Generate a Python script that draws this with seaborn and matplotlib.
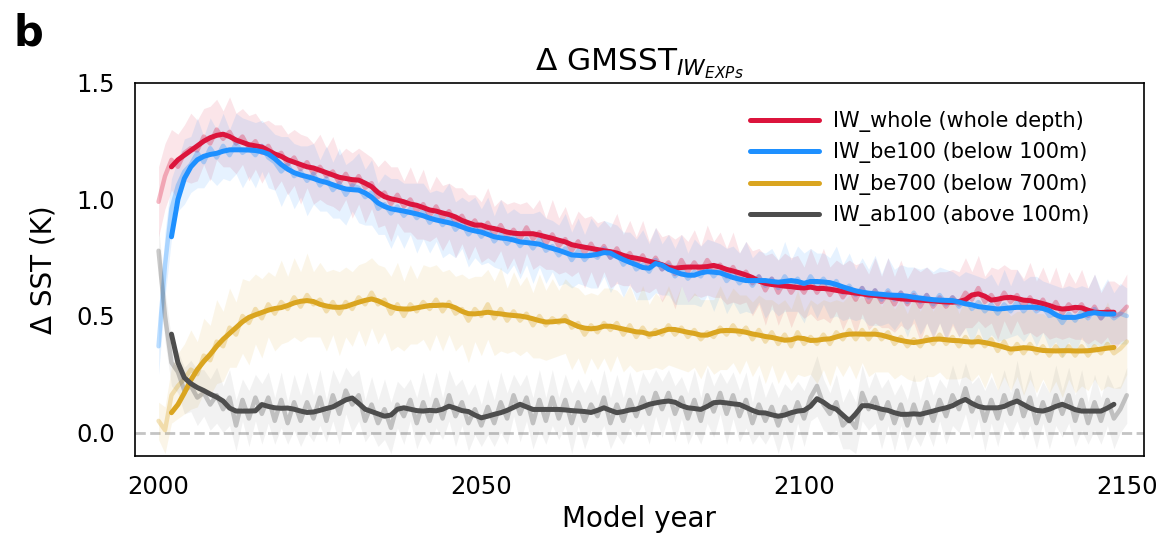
import numpy as np
import pandas as pd
import matplotlib
matplotlib.use("Agg")
import matplotlib.pyplot as plt
import seaborn as sns

# ---------------- data ----------------
years_raw = list(range(2000, 2151))
years_smooth = list(range(2002, 2149))

series_names = ["IW_whole (whole depth)", "IW_be100 (below 100m)",
                "IW_be700 (below 700m)", "IW_ab100 (above 100m)"]
series_colors = ["#DC143C", "#1E90FF", "#DAA520", "#4D4D4D"]

whole_raw = [
    0.99, 1.10, 1.17, 1.14, 1.20, 1.22, 1.21, 1.27, 1.24, 1.30,
    1.26, 1.29, 1.24, 1.27, 1.22, 1.25, 1.20, 1.23, 1.18, 1.20,
    1.15, 1.18, 1.13, 1.16, 1.11, 1.14, 1.10, 1.12, 1.07, 1.11,
    1.06, 1.10, 1.05, 1.07, 1.01, 1.03, 0.98, 1.02, 0.97, 1.00,
    0.95, 0.98, 0.93, 0.97, 0.92, 0.95, 0.90, 0.93, 0.88, 0.91,
    0.86, 0.90, 0.85, 0.89, 0.84, 0.87, 0.83, 0.88, 0.83, 0.86,
    0.81, 0.85, 0.80, 0.83, 0.78, 0.82, 0.77, 0.81, 0.76, 0.80,
    0.75, 0.79, 0.74, 0.77, 0.72, 0.76, 0.71, 0.75, 0.70, 0.73,
    0.68, 0.74, 0.69, 0.73, 0.69, 0.74, 0.70, 0.72, 0.67, 0.71,
    0.66, 0.69, 0.64, 0.67, 0.61, 0.66, 0.60, 0.65, 0.60, 0.64,
    0.60, 0.65, 0.60, 0.64, 0.59, 0.63, 0.58, 0.62, 0.57, 0.62,
    0.56, 0.61, 0.56, 0.60, 0.55, 0.60, 0.55, 0.59, 0.54, 0.59,
    0.54, 0.58, 0.54, 0.58, 0.55, 0.60, 0.57, 0.62, 0.56, 0.59,
    0.55, 0.60, 0.56, 0.59, 0.54, 0.58, 0.53, 0.57, 0.52, 0.56,
    0.51, 0.55, 0.52, 0.55, 0.50, 0.54, 0.49, 0.53, 0.50, 0.51,
    0.54]
be100_raw = [
    0.37, 0.72, 0.96, 1.06, 1.12, 1.15, 1.20, 1.16, 1.22, 1.18,
    1.23, 1.19, 1.24, 1.20, 1.22, 1.19, 1.23, 1.18, 1.16, 1.12,
    1.15, 1.10, 1.12, 1.08, 1.11, 1.06, 1.09, 1.04, 1.07, 1.02,
    1.06, 1.05, 1.01, 1.03, 0.96, 0.98, 0.94, 0.97, 0.93, 0.96,
    0.92, 0.95, 0.90, 0.93, 0.89, 0.92, 0.87, 0.90, 0.85, 0.88,
    0.84, 0.87, 0.82, 0.85, 0.81, 0.84, 0.80, 0.83, 0.79, 0.83,
    0.78, 0.80, 0.76, 0.79, 0.74, 0.78, 0.74, 0.77, 0.75, 0.79,
    0.75, 0.77, 0.72, 0.75, 0.70, 0.72, 0.69, 0.74, 0.70, 0.72,
    0.67, 0.70, 0.66, 0.69, 0.67, 0.71, 0.67, 0.70, 0.65, 0.68,
    0.64, 0.67, 0.63, 0.67, 0.63, 0.66, 0.62, 0.67, 0.63, 0.66,
    0.62, 0.67, 0.63, 0.66, 0.62, 0.65, 0.60, 0.63, 0.59, 0.62,
    0.58, 0.61, 0.57, 0.61, 0.57, 0.60, 0.56, 0.60, 0.56, 0.59,
    0.55, 0.59, 0.55, 0.58, 0.54, 0.57, 0.53, 0.56, 0.52, 0.55,
    0.51, 0.55, 0.52, 0.56, 0.52, 0.55, 0.52, 0.54, 0.50, 0.51,
    0.47, 0.51, 0.48, 0.52, 0.49, 0.53, 0.49, 0.52, 0.49, 0.51,
    0.50]
be700_raw = [
    0.05, 0.01, 0.16, 0.20, 0.23, 0.27, 0.25, 0.33, 0.31, 0.39,
    0.37, 0.45, 0.42, 0.50, 0.47, 0.53, 0.49, 0.55, 0.51, 0.56,
    0.53, 0.58, 0.54, 0.59, 0.55, 0.57, 0.52, 0.56, 0.51, 0.56,
    0.53, 0.58, 0.55, 0.60, 0.55, 0.57, 0.51, 0.55, 0.50, 0.55,
    0.52, 0.56, 0.53, 0.57, 0.52, 0.56, 0.51, 0.53, 0.48, 0.53,
    0.50, 0.55, 0.49, 0.53, 0.48, 0.52, 0.48, 0.51, 0.46, 0.50,
    0.46, 0.49, 0.47, 0.50, 0.45, 0.47, 0.42, 0.46, 0.43, 0.47,
    0.44, 0.47, 0.42, 0.46, 0.41, 0.45, 0.41, 0.44, 0.42, 0.46,
    0.42, 0.45, 0.41, 0.44, 0.40, 0.43, 0.41, 0.45, 0.42, 0.46,
    0.42, 0.45, 0.40, 0.44, 0.39, 0.43, 0.38, 0.42, 0.37, 0.43,
    0.38, 0.41, 0.38, 0.42, 0.38, 0.43, 0.40, 0.44, 0.40, 0.44,
    0.40, 0.44, 0.40, 0.43, 0.38, 0.41, 0.37, 0.40, 0.37, 0.41,
    0.38, 0.42, 0.38, 0.41, 0.37, 0.41, 0.37, 0.41, 0.37, 0.40,
    0.35, 0.39, 0.34, 0.38, 0.34, 0.38, 0.34, 0.37, 0.33, 0.37,
    0.33, 0.37, 0.33, 0.37, 0.33, 0.37, 0.34, 0.38, 0.34, 0.36,
    0.39]
ab100_raw = [
    0.78, 0.50, 0.30, 0.26, 0.18, 0.20, 0.15, 0.17, 0.12, 0.16,
    0.10, 0.15, 0.03, 0.14, 0.06, 0.15, 0.08, 0.15, 0.05, 0.14,
    0.04, 0.13, 0.05, 0.13, 0.06, 0.15, 0.05, 0.16, 0.08, 0.18,
    0.12, 0.16, 0.05, 0.12, 0.04, 0.10, 0.02, 0.12, 0.07, 0.14,
    0.04, 0.13, 0.05, 0.14, 0.06, 0.16, 0.07, 0.13, 0.04, 0.10,
    0.03, 0.11, 0.04, 0.13, 0.06, 0.16, 0.08, 0.15, 0.04, 0.14,
    0.05, 0.15, 0.06, 0.14, 0.04, 0.13, 0.05, 0.12, 0.07, 0.15,
    0.04, 0.12, 0.05, 0.14, 0.07, 0.15, 0.08, 0.17, 0.10, 0.17,
    0.08, 0.15, 0.06, 0.14, 0.05, 0.16, 0.09, 0.17, 0.08, 0.16,
    0.07, 0.14, 0.04, 0.12, 0.05, 0.11, 0.03, 0.11, 0.05, 0.13,
    0.06, 0.15, 0.20, 0.12, 0.08, 0.13, 0.03, 0.06, 0.02, 0.17,
    0.10, 0.15, 0.06, 0.13, 0.04, 0.12, 0.03, 0.12, 0.04, 0.13,
    0.05, 0.14, 0.07, 0.16, 0.10, 0.19, 0.09, 0.15, 0.05, 0.14,
    0.06, 0.16, 0.08, 0.18, 0.07, 0.15, 0.04, 0.13, 0.05, 0.16,
    0.08, 0.16, 0.05, 0.14, 0.04, 0.13, 0.05, 0.14, 0.06, 0.10,
    0.16]

whole_spread = [
    .15, .14, .13, .14, .12, .15, .13, .12, .16, .13,
    .12, .15, .13, .12, .14, .12, .13, .11, .14, .12,
    .13, .12, .15, .11, .13, .14, .12, .15, .12, .11,
    .14, .12, .15, .11, .13, .14, .16, .12, .11, .14,
    .12, .15, .11, .13, .14, .12, .15, .12, .14, .11,
    .13, .15, .12, .11, .14, .12, .15, .11, .13, .14,
    .11, .15, .12, .14, .11, .13, .15, .12, .14, .11,
    .13, .15, .11, .14, .12, .15, .11, .13, .14, .12,
    .15, .11, .13, .14, .11, .15, .12, .14, .12, .15,
    .11, .13, .14, .12, .15, .11, .14, .12, .15, .12,
    .11, .14, .12, .15, .12, .11, .14, .12, .15, .11,
    .12, .14, .11, .15, .12, .14, .11, .12, .15, .12,
    .14, .11, .15, .12, .14, .15, .12, .14, .11, .12,
    .15, .12, .14, .11, .12, .15, .12, .14, .12, .15,
    .11, .14, .12, .15, .12, .14, .11, .12, .15, .12,
    .14]
be100_spread = [
    .12, .14, .13, .11, .14, .12, .15, .11, .13, .12,
    .14, .11, .13, .15, .12, .14, .11, .13, .12, .15,
    .12, .14, .11, .15, .13, .11, .14, .12, .15, .13,
    .11, .15, .12, .14, .11, .13, .15, .12, .14, .11,
    .15, .12, .13, .11, .14, .15, .12, .11, .14, .13,
    .12, .14, .11, .15, .13, .12, .14, .11, .15, .12,
    .14, .11, .13, .15, .12, .14, .11, .15, .13, .12,
    .15, .12, .14, .11, .13, .15, .12, .14, .11, .13,
    .12, .15, .11, .14, .13, .12, .15, .11, .14, .12,
    .13, .15, .12, .11, .14, .13, .12, .15, .11, .14,
    .15, .12, .14, .11, .13, .15, .12, .14, .11, .13,
    .12, .15, .11, .14, .13, .12, .15, .11, .14, .12,
    .14, .12, .15, .11, .13, .12, .15, .11, .14, .13,
    .12, .15, .11, .14, .13, .12, .15, .11, .14, .12,
    .15, .12, .14, .11, .13, .15, .12, .14, .11, .13,
    .12]
be700_spread = [
    .08, .10, .12, .14, .15, .17, .14, .16, .15, .18,
    .15, .17, .14, .16, .18, .15, .17, .14, .16, .18,
    .14, .17, .15, .18, .14, .16, .17, .14, .18, .15,
    .16, .14, .18, .15, .17, .14, .16, .18, .15, .17,
    .14, .16, .18, .15, .17, .14, .16, .15, .18, .14,
    .17, .15, .16, .18, .14, .17, .15, .16, .14, .18,
    .15, .17, .14, .16, .18, .15, .17, .14, .16, .15,
    .18, .14, .16, .17, .15, .18, .14, .16, .15, .17,
    .14, .18, .15, .16, .17, .14, .16, .18, .15, .16,
    .17, .14, .16, .15, .18, .14, .17, .15, .16, .18,
    .14, .16, .17, .15, .18, .14, .16, .15, .17, .14,
    .16, .18, .14, .17, .15, .16, .14, .18, .15, .17,
    .14, .16, .15, .18, .14, .17, .15, .16, .18, .14,
    .17, .15, .16, .14, .18, .15, .17, .14, .16, .15,
    .18, .14, .16, .17, .15, .14, .16, .18, .15, .17,
    .14]
ab100_spread = [
    .10, .11, .10, .09, .10, .11, .12, .10, .11, .12,
    .10, .12, .11, .09, .12, .10, .13, .11, .10, .12,
    .09, .12, .11, .13, .10, .12, .09, .11, .13, .10,
    .12, .11, .09, .12, .10, .13, .11, .10, .12, .09,
    .11, .13, .10, .12, .09, .11, .13, .10, .12, .11,
    .09, .12, .10, .13, .11, .09, .12, .10, .11, .13,
    .10, .12, .09, .11, .13, .10, .12, .11, .09, .12,
    .11, .13, .10, .12, .09, .11, .13, .10, .12, .10,
    .12, .09, .11, .13, .10, .12, .11, .09, .13, .10,
    .11, .12, .09, .13, .10, .11, .12, .10, .13, .09,
    .12, .10, .13, .11, .09, .12, .10, .13, .11, .12,
    .09, .11, .13, .10, .12, .09, .11, .13, .10, .12,
    .11, .09, .12, .13, .10, .11, .12, .09, .13, .10,
    .12, .11, .09, .13, .10, .12, .11, .09, .12, .13,
    .10, .12, .11, .13, .09, .12, .10, .11, .13, .10,
    .12]

whole_smooth = [
    1.14, 1.17, 1.19, 1.21, 1.23, 1.25, 1.265, 1.275,
    1.28, 1.27, 1.255, 1.245, 1.235, 1.23, 1.225, 1.21, 1.195, 1.185,
    1.17, 1.16, 1.15, 1.14, 1.135, 1.125, 1.115, 1.105, 1.095, 1.09,
    1.085, 1.083, 1.07, 1.055, 1.03, 1.012, 1.003, 0.997, 0.99, 0.98,
    0.975, 0.965, 0.955, 0.95, 0.942, 0.935, 0.925, 0.91, 0.90, 0.89,
    0.89, 0.88, 0.875, 0.868, 0.86, 0.855, 0.853, 0.853, 0.853, 0.847,
    0.84, 0.833, 0.825, 0.818, 0.806, 0.80, 0.795, 0.79, 0.785, 0.78,
    0.776, 0.77, 0.76, 0.752, 0.748, 0.742, 0.735, 0.728, 0.72, 0.708,
    0.705, 0.708, 0.71, 0.71, 0.71, 0.712, 0.717, 0.71, 0.70, 0.693,
    0.685, 0.676, 0.665, 0.65, 0.64, 0.635, 0.632, 0.628, 0.626, 0.622,
    0.62, 0.624, 0.618, 0.618, 0.615, 0.61, 0.605, 0.602, 0.598, 0.595,
    0.59, 0.588, 0.585, 0.582, 0.578, 0.573, 0.572, 0.57, 0.568, 0.566,
    0.565, 0.562, 0.56, 0.559, 0.562, 0.57, 0.59, 0.595, 0.585, 0.568,
    0.572, 0.578, 0.58, 0.575, 0.568, 0.566, 0.56, 0.553, 0.545, 0.535,
    0.53, 0.532, 0.537, 0.535, 0.525, 0.516, 0.515, 0.516, 0.516]
be100_smooth = [
    0.84, 1.00, 1.09, 1.14, 1.17, 1.185, 1.193, 1.198,
    1.207, 1.213, 1.213, 1.213, 1.212, 1.21, 1.205, 1.195, 1.175, 1.15,
    1.13, 1.115, 1.105, 1.098, 1.09, 1.08, 1.073, 1.063, 1.053, 1.045,
    1.042, 1.04, 1.028, 1.01, 0.985, 0.97, 0.96, 0.955, 0.95, 0.944,
    0.938, 0.93, 0.92, 0.912, 0.906, 0.90, 0.893, 0.882, 0.872, 0.865,
    0.86, 0.85, 0.84, 0.835, 0.832, 0.826, 0.818, 0.815, 0.812, 0.808,
    0.798, 0.79, 0.782, 0.772, 0.762, 0.76, 0.758, 0.76, 0.765, 0.772,
    0.77, 0.755, 0.742, 0.73, 0.72, 0.708, 0.705, 0.725, 0.718, 0.70,
    0.69, 0.68, 0.675, 0.675, 0.685, 0.69, 0.688, 0.685, 0.675, 0.665,
    0.658, 0.652, 0.652, 0.652, 0.652, 0.648, 0.645, 0.648, 0.652, 0.648,
    0.64, 0.648, 0.648, 0.646, 0.643, 0.635, 0.625, 0.616, 0.608, 0.602,
    0.598, 0.595, 0.593, 0.59, 0.589, 0.588, 0.585, 0.58, 0.577, 0.573,
    0.57, 0.568, 0.567, 0.566, 0.56, 0.552, 0.548, 0.54, 0.537, 0.533,
    0.53, 0.532, 0.535, 0.537, 0.537, 0.537, 0.537, 0.532, 0.523, 0.505,
    0.494, 0.494, 0.494, 0.50, 0.51, 0.514, 0.51, 0.508, 0.509]
be700_smooth = [
    0.085, 0.12, 0.17, 0.225, 0.27, 0.305, 0.335, 0.37,
    0.40, 0.425, 0.45, 0.475, 0.494, 0.505, 0.515, 0.525, 0.532, 0.536,
    0.545, 0.556, 0.563, 0.566, 0.562, 0.55, 0.543, 0.538, 0.537, 0.54,
    0.55, 0.559, 0.567, 0.573, 0.565, 0.552, 0.54, 0.532, 0.53, 0.53,
    0.535, 0.54, 0.545, 0.545, 0.547, 0.545, 0.535, 0.52, 0.51, 0.509,
    0.512, 0.516, 0.512, 0.509, 0.505, 0.502, 0.50, 0.495, 0.488, 0.48,
    0.474, 0.475, 0.478, 0.48, 0.468, 0.455, 0.448, 0.445, 0.448, 0.456,
    0.456, 0.45, 0.444, 0.438, 0.432, 0.43, 0.422, 0.425, 0.435, 0.443,
    0.442, 0.436, 0.43, 0.425, 0.418, 0.418, 0.428, 0.436, 0.438, 0.437,
    0.435, 0.43, 0.423, 0.418, 0.412, 0.408, 0.402, 0.396, 0.398, 0.406,
    0.403, 0.395, 0.396, 0.40, 0.402, 0.41, 0.418, 0.422, 0.423, 0.422,
    0.422, 0.422, 0.418, 0.41, 0.402, 0.395, 0.39, 0.386, 0.39, 0.395,
    0.40, 0.401, 0.398, 0.395, 0.394, 0.39, 0.388, 0.39, 0.386, 0.38,
    0.374, 0.366, 0.358, 0.36, 0.364, 0.362, 0.357, 0.352, 0.351, 0.35,
    0.351, 0.351, 0.35, 0.35, 0.351, 0.354, 0.358, 0.362, 0.365]
ab100_smooth = [
    0.422, 0.30, 0.235, 0.21, 0.193, 0.18, 0.165, 0.152,
    0.135, 0.105, 0.092, 0.092, 0.092, 0.093, 0.12, 0.112, 0.106, 0.104,
    0.105, 0.10, 0.092, 0.086, 0.088, 0.095, 0.103, 0.11, 0.125, 0.14,
    0.148, 0.125, 0.10, 0.09, 0.08, 0.07, 0.075, 0.10, 0.106, 0.10,
    0.094, 0.092, 0.095, 0.093, 0.10, 0.113, 0.104, 0.094, 0.09, 0.075,
    0.063, 0.07, 0.078, 0.085, 0.095, 0.108, 0.121, 0.11, 0.099, 0.099,
    0.099, 0.099, 0.099, 0.097, 0.094, 0.092, 0.09, 0.086, 0.095, 0.106,
    0.095, 0.085, 0.09, 0.097, 0.10, 0.11, 0.121, 0.127, 0.132, 0.135,
    0.13, 0.115, 0.106, 0.103, 0.099, 0.112, 0.128, 0.13, 0.127, 0.123,
    0.12, 0.108, 0.095, 0.085, 0.084, 0.076, 0.07, 0.075, 0.085, 0.092,
    0.095, 0.113, 0.145, 0.13, 0.11, 0.10, 0.075, 0.05, 0.08, 0.115,
    0.115, 0.108, 0.10, 0.095, 0.085, 0.078, 0.078, 0.08, 0.078, 0.085,
    0.092, 0.10, 0.106, 0.115, 0.13, 0.142, 0.125, 0.112, 0.106, 0.106,
    0.106, 0.112, 0.125, 0.135, 0.12, 0.105, 0.095, 0.092, 0.10, 0.112,
    0.121, 0.11, 0.098, 0.092, 0.092, 0.092, 0.092, 0.105, 0.121]

x_ticks = [2000, 2050, 2100, 2150]
y_ticks = [0.0, 0.5, 1.0, 1.5]
y_tick_labels = ["0.0", "0.5", "1.0", "1.5"]

raws = [whole_raw, be100_raw, be700_raw, ab100_raw]
spreads = [whole_spread, be100_spread, be700_spread, ab100_spread]
smooths = [whole_smooth, be100_smooth, be700_smooth, ab100_smooth]
band_alphas = [0.11, 0.11, 0.10, 0.07]

for arr in raws + spreads:
    assert len(arr) == len(years_raw), len(arr)
for arr in smooths:
    assert len(arr) == len(years_smooth), len(arr)

# ---------------- plot ----------------
sns.set_style("white")
plt.rcParams['font.family'] = ['DejaVu Sans']
plt.rcParams['text.color'] = 'black'
plt.rcParams['axes.labelcolor'] = 'black'
plt.rcParams['xtick.color'] = 'black'
plt.rcParams['ytick.color'] = 'black'

fig, ax = plt.subplots(figsize=(11.61, 5.35), dpi=100)
fig.subplots_adjust(left=0.116, right=0.985, top=0.845, bottom=0.148)

ax.axhline(0, color="#C4C4C4", ls="--", lw=2, zorder=0)

for raw, spr, col, a in zip(raws, spreads, series_colors, band_alphas):
    lo = np.array(raw) - np.array(spr)
    hi = np.array(raw) + np.array(spr)
    ax.fill_between(years_raw, lo, hi, color=col, alpha=a, lw=0, zorder=1)

for raw, col in zip(raws, series_colors):
    sns.lineplot(x=years_raw, y=raw, color=col, alpha=0.3, lw=3.2, ax=ax,
                 legend=False, zorder=2)

for sm, col, name in zip(smooths, series_colors, series_names):
    sns.lineplot(x=years_smooth, y=sm, color=col, lw=3.6, ax=ax,
                 label=name, zorder=3)

handles, labels = ax.get_legend_handles_labels()
ax.legend(handles, labels, loc="upper right", bbox_to_anchor=(0.965, 0.975),
          frameon=False, fontsize=15, handlelength=3.3, handletextpad=0.7,
          labelspacing=0.5)

ax.set_xlim(1996.3, 2152.6)
ax.set_ylim(-0.1, 1.5)
ax.set_xticks(x_ticks)
ax.set_xticklabels([str(t) for t in x_ticks])
ax.set_yticks(y_ticks)
ax.set_yticklabels(y_tick_labels)
ax.tick_params(axis="both", labelsize=17.5, length=0, pad=14)

ax.set_xlabel("Model year", fontsize=20)
ax.set_ylabel("Δ SST (K)", fontsize=20, labelpad=14)
ax.set_title("Δ GMSST$_{IW_{EXPs}}$", fontsize=22.5, pad=9)

for s in ax.spines.values():
    s.set_color("black")
    s.set_linewidth(1.2)

fig.text(0.012, 0.915, "b", fontsize=30, fontweight="bold")

fig.savefig("out.png", dpi=100)
